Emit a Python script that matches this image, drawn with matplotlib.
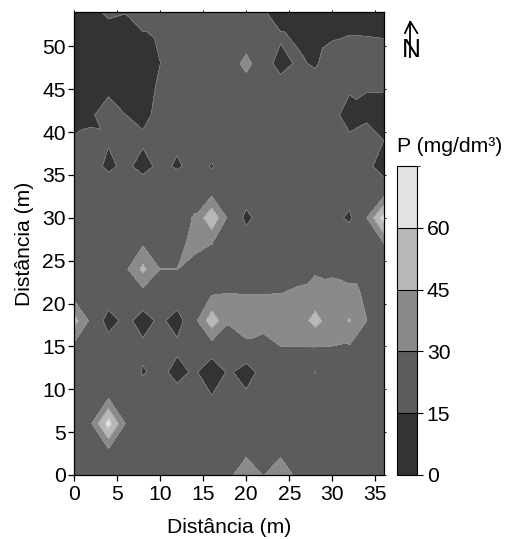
import numpy as np
import matplotlib
matplotlib.use("Agg")
import matplotlib.pyplot as plt
import matplotlib.tri as mtri
from matplotlib.lines import Line2D
from matplotlib.colors import BoundaryNorm, ListedColormap

plt.rcParams['font.family'] = ['Liberation Sans', 'DejaVu Sans']
plt.rcParams['font.size'] = 15.2

x_m = [0, 2, 4, 6, 8, 10, 12, 14, 16, 18, 20, 22, 24, 26, 28, 30, 32, 34, 36]
y_m = [0, 3, 6, 9, 12, 15, 18, 21, 24, 27, 30, 33, 36, 39, 42, 45, 48, 51, 54]

#        x = 0     2     4     6     8     10    12    14    16    18    20     22    24    26    28     30    32    34    36
p_y54 = [10.0, 12.3, 16.8, 15.5, 22.0, 22.0, 22.0, 22.0, 22.0, 22.0, 22.0, 16.0, 10.0, 10.0, 10.0, 10.0, 10.0, 10.0, 10.0]
p_y51 = [10.0, 10.0, 10.0, 10.0, 12.9, 16.1, 22.0, 22.0, 22.0, 22.0, 22.0, 22.0, 16.5, 13.5, 10.0, 14.0, 15.5, 15.3, 14.8]
p_y48 = [10.0, 10.0, 10.0, 10.0, 10.0, 14.9, 22.0, 22.0, 22.0, 22.0, 34.3, 21.0, 10.0, 17.1, 13.25, 22.0, 22.0, 22.0, 22.0]
p_y45 = [10.0, 10.0, 12.0, 10.0, 10.0, 17.1, 22.0, 22.0, 22.0, 22.0, 22.0, 22.0, 21.6, 22.0, 22.0, 22.0, 17.0, 15.4, 15.5]
p_y42 = [10.0, 13.2, 22.0, 15.05, 11.6, 18.7, 22.0, 22.0, 22.0, 22.0, 22.0, 22.0, 22.0, 22.0, 22.0, 20.0, 8.0, 12.0, 10.0]
p_y39 = [16.25, 17.0, 16.4, 22.0, 17.5, 22.0, 17.8, 22.0, 22.0, 22.0, 22.0, 22.0, 22.0, 22.0, 22.0, 22.0, 18.4, 21.7, 14.9]
p_y36 = [22.0, 22.0, 11.2, 19.0, 9.0, 19.0, 13.0, 20.0, 14.0, 22.0, 22.0, 22.0, 22.0, 22.0, 22.0, 22.0, 22.0, 17.7, 10.0]
p_y33 = [22.0, 22.0, 27.7, 22.0, 27.7, 22.0, 28.4, 22.0, 24.5, 22.0, 21.0, 22.0, 22.0, 22.0, 22.0, 22.0, 19.7, 22.0, 22.0]
p_y30 = [22.0, 22.0, 22.0, 22.0, 22.0, 22.0, 22.0, 31.4, 57.0, 26.0, 12.0, 20.6, 22.0, 22.0, 22.0, 18.7, 13.0, 29.9, 67.5]
p_y27 = [22.0, 22.0, 22.0, 22.0, 28.0, 22.0, 24.0, 36.0, 30.2, 22.0, 22.0, 22.0, 22.0, 22.0, 22.0, 22.0, 23.0, 22.0, 29.9]
p_y24 = [22.0, 22.0, 22.0, 27.2, 48.6, 30.1, 30.1, 22.0, 22.0, 22.0, 22.0, 22.0, 22.0, 22.0, 28.0, 26.0, 22.0, 22.0, 22.0]
p_y21 = [24.0, 22.0, 21.9, 22.0, 22.5, 22.0, 21.9, 22.0, 29.9, 30.6, 30.05, 30.2, 30.4, 34.0, 36.0, 38.0, 36.0, 26.8, 22.0]
p_y18 = [51.0, 26.0, 10.0, 18.3, 10.0, 17.5, 10.0, 25.0, 54.0, 32.0, 38.0, 38.0, 38.0, 36.5, 50.0, 36.5, 46.0, 30.1, 22.0]
p_y15 = [26.0, 22.0, 20.6, 22.0, 17.5, 22.0, 17.5, 22.0, 22.8, 20.0, 26.6, 22.0, 29.9, 30.1, 30.2, 29.9, 29.0, 22.0, 22.0]
p_y12 = [22.0, 22.0, 22.0, 24.0, 14.0, 18.5, 11.0, 17.0, 6.0, 17.0, 9.0, 19.9, 22.0, 22.0, 14.5, 22.0, 22.0, 22.0, 22.0]
p_y09 = [22.0, 22.0, 29.0, 22.0, 20.7, 22.0, 20.0, 22.0, 16.0, 22.0, 18.0, 22.0, 22.0, 22.0, 22.0, 22.0, 22.0, 22.0, 22.0]
p_y06 = [22.0, 29.0, 67.0, 29.0, 22.0, 22.0, 22.0, 22.0, 22.0, 22.0, 22.0, 22.0, 22.0, 22.0, 22.0, 22.0, 22.0, 22.0, 22.0]
p_y03 = [22.0, 22.0, 29.0, 22.0, 22.0, 22.0, 22.0, 22.0, 22.0, 22.0, 26.2, 22.0, 26.2, 22.0, 22.0, 22.0, 22.0, 22.0, 22.0]
p_y00 = [22.0, 22.0, 22.0, 22.0, 22.0, 22.0, 22.0, 22.0, 22.0, 27.3, 38.0, 29.5, 38.0, 26.6, 22.0, 22.0, 22.0, 22.0, 22.0]

levels = [0, 15, 30, 45, 60, 75]
band_colors = ['#333333', '#5c5c5c', '#8a8a8a', '#b8b8b8', '#e2e2e2']
x_ticks = [0, 5, 10, 15, 20, 25, 30, 35]
y_ticks = [0, 5, 10, 15, 20, 25, 30, 35, 40, 45, 50]
x_label = 'Distância (m)'
y_label = 'Distância (m)'
legend_title = 'P (mg/dm³)'

rows = [p_y00, p_y03, p_y06, p_y09, p_y12, p_y15, p_y18, p_y21, p_y24, p_y27,
        p_y30, p_y33, p_y36, p_y39, p_y42, p_y45, p_y48, p_y51, p_y54]
Z = np.array(rows)
X, Y = np.meshgrid(x_m, y_m)
nx, ny = len(x_m), len(y_m)

# each grid cell is split so the sampled nodes sit at the tips of diamonds
flipped = {(6, 8), (6, 10)}
tris = []
for j in range(ny - 1):
    for i in range(nx - 1):
        a = j * nx + i
        b = a + 1
        c = a + nx
        d = c + 1
        use_bc = (i + j) % 2 == 0
        if (i, j) in flipped:
            use_bc = not use_bc
        if use_bc:
            tris += [[a, b, c], [b, d, c]]
        else:
            tris += [[a, b, d], [a, d, c]]
tri = mtri.Triangulation(X.ravel(), Y.ravel(), np.array(tris))

W, H = 505, 539
fig = plt.figure(figsize=(W / 100, H / 100), dpi=100)
ax = fig.add_axes([74 / W, (H - 475) / H, 310 / W, 463 / H])
cmap = ListedColormap(band_colors)
norm = BoundaryNorm(levels, cmap.N)
cs = ax.tricontourf(tri, Z.ravel(), levels=levels, cmap=cmap, norm=norm)
ax.tricontour(tri, Z.ravel(), levels=levels[1:-1], colors='#9a9a9a', linewidths=0.3)
ax.set_xlim(0, 36)
ax.set_ylim(0, 54)
ax.set_xticks(x_ticks)
ax.set_yticks(y_ticks)
ax.tick_params(axis='y', length=4, width=0.9, pad=2)
ax.tick_params(axis='x', length=4, width=0.9, pad=3.5)
for s in ax.spines.values():
    s.set_linewidth(0.9)
ax.set_xlabel(x_label, labelpad=10)
ax.set_ylabel(y_label, labelpad=6)

for spine_side, ticks in (('top', x_ticks), ('right', y_ticks)):
    sec = ax.secondary_xaxis('top') if spine_side == 'top' else ax.secondary_yaxis('right')
    sec.set_ticks(ticks)
    sec.tick_params(length=1.2, width=0.7, labeltop=False, labelright=False)
    sec.spines[spine_side].set_visible(False)

cax = fig.add_axes([397 / W, (H - 475) / H, 20 / W, 309 / H])
cb = fig.colorbar(cs, cax=cax, ticks=levels[:-1], drawedges=True)
cb.dividers.set_color('black')
cb.dividers.set_linewidth(0.8)
cb.outline.set_linewidth(0.8)
cax.tick_params(length=4, width=0.8, pad=3)
fig.text(397 / W, (H - 152) / H, legend_title, ha='left', va='baseline')

# north arrow, in pixel coordinates
def px(xs, ys):
    return [v / W for v in xs], [(H - v) / H for v in ys]
for xs, ys in (([410.3, 410.3], [21.7, 57]), ([405, 410.3, 417.3], [33, 21.7, 33])):
    u, v = px(xs, ys)
    fig.add_artist(Line2D(u, v, color='black', lw=1.3, transform=fig.transFigure))
fig.text(411 / W, (H - 57) / H, 'N', ha='center', va='baseline', fontsize=19)

fig.savefig('out.png', dpi=100)
